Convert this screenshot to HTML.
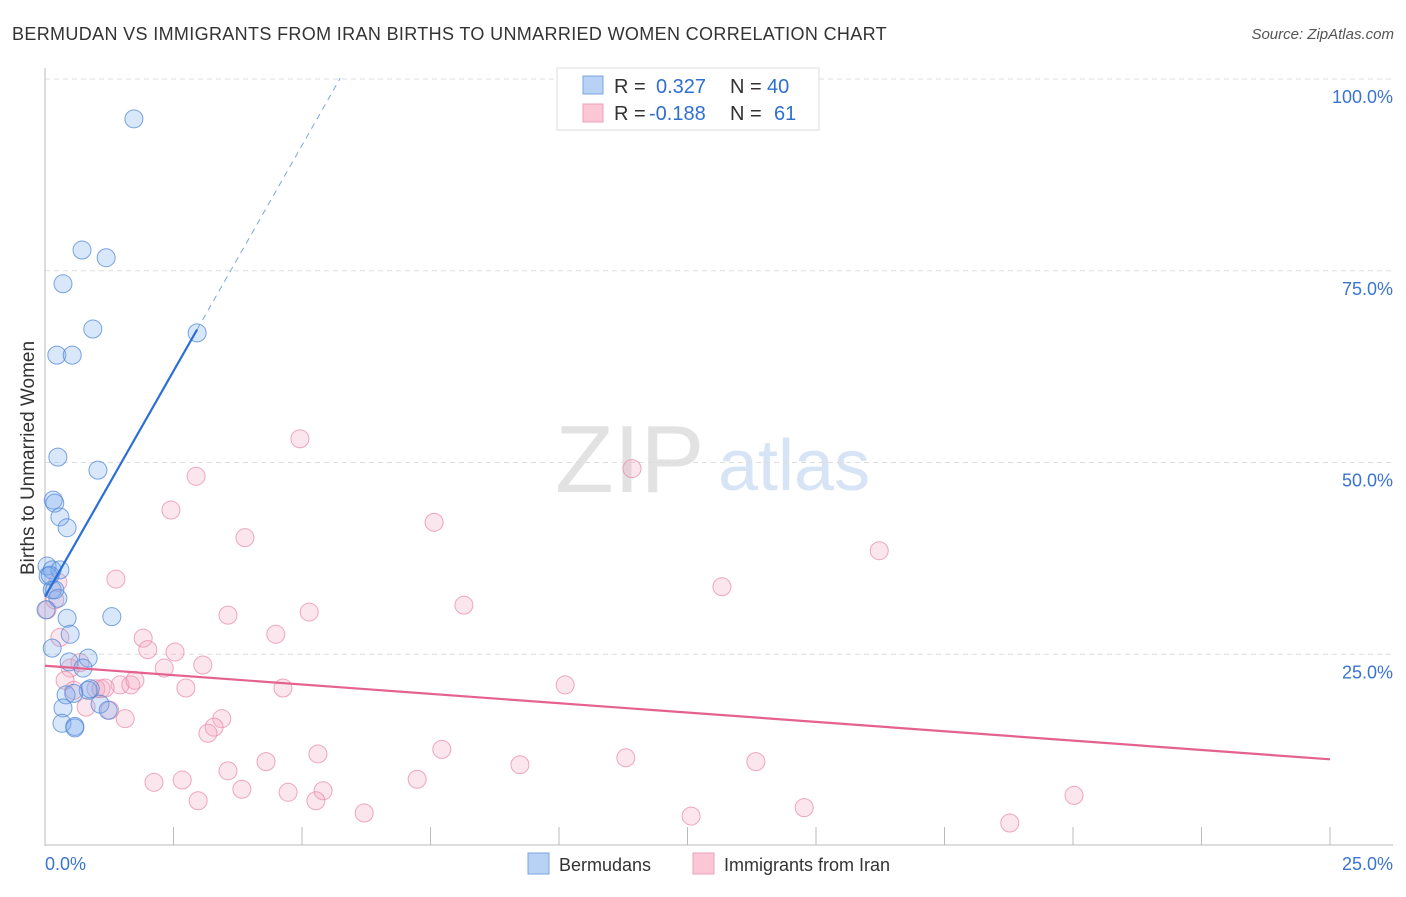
<!DOCTYPE html>
<html><head><meta charset="utf-8"><style>
body{margin:0;background:#fff;font-family:"Liberation Sans",sans-serif}
svg text{font-family:"Liberation Sans",sans-serif}
</style></head><body>
<svg id="chart" width="1406" height="892" xmlns="http://www.w3.org/2000/svg">
<text x="12" y="40" font-size="18" letter-spacing="0.35" fill="#333">BERMUDAN VS IMMIGRANTS FROM IRAN BIRTHS TO UNMARRIED WOMEN CORRELATION CHART</text>
<text x="1394" y="39" font-size="15" fill="#555" text-anchor="end" font-style="italic">Source: ZipAtlas.com</text>
<text x="555" y="492" font-size="96" fill="#e2e2e2" font-family="Liberation Serif">ZIP</text>
<text x="718" y="490" font-size="72" fill="#d6e4f5">atlas</text>
<g id="grid"></g>
<g id="axes"></g>
<g id="pink"></g>
<g id="blue"></g>
<g id="trends"></g>
<text transform="translate(34,458) rotate(-90)" font-size="19" fill="#333" text-anchor="middle">Births to Unmarried Women</text>
<g>
<rect x="557" y="68" width="262" height="62" fill="#fff" stroke="#ddd"/>
<rect x="583" y="76" width="20" height="18" fill="#b8d2f5" stroke="#7aa6e0"/>
<rect x="583" y="104" width="20" height="18" fill="#fcc8d8" stroke="#eca0b8"/>
<text x="614" y="93" font-size="20" fill="#333">R =</text>
<text x="656" y="93" font-size="20" fill="#2f6fd1">0.327</text>
<text x="730" y="93" font-size="20" fill="#333">N =</text>
<text x="767" y="93" font-size="20" fill="#2f6fd1">40</text>
<text x="614" y="120" font-size="20" fill="#333">R =</text>
<text x="649" y="120" font-size="20" fill="#2f6fd1">-0.188</text>
<text x="730" y="120" font-size="20" fill="#333">N =</text>
<text x="774" y="120" font-size="20" fill="#2f6fd1">61</text>
</g>
<g>
<rect x="528" y="853" width="21" height="21" fill="#b8d2f5" stroke="#7aa6e0"/>
<text x="559" y="871" font-size="18" fill="#333">Bermudans</text>
<rect x="693" y="853" width="21" height="21" fill="#fcc8d8" stroke="#eca0b8"/>
<text x="724" y="871" font-size="18" fill="#333">Immigrants from Iran</text>
</g>
</svg>
<script>
const blueX=[1.73,0.72,1.19,0.35,0.93,2.96,0.23,0.53,0.25,1.03,0.16,0.19,0.29,0.43,0.04,0.14,0.29,0.06,0.14,0.25,0.02,1.30,0.43,0.49,0.14,0.84,0.47,0.74,0.88,0.84,0.41,0.56,1.07,0.35,1.23,0.33,0.58,0.58,0.10,0.19];
const blueY=[94.8,77.7,76.7,73.3,67.4,66.9,64.0,64.0,50.7,49.0,45.1,44.7,42.9,41.5,36.5,36.0,36.0,35.2,33.4,32.3,30.8,29.9,29.7,27.6,25.8,24.5,24.0,23.2,20.5,20.3,19.7,19.9,18.5,18.0,17.7,16.0,15.6,15.4,35.3,33.4];
const pinkX=[4.96,2.94,11.42,2.45,7.57,16.23,3.89,1.38,0.25,8.15,13.17,3.56,5.14,0.04,4.49,1.91,0.29,2.00,2.53,0.49,2.32,3.07,0.68,10.12,2.74,4.63,0.99,1.09,1.46,1.67,0.39,1.75,0.80,3.44,3.29,3.17,1.56,1.26,5.31,7.72,11.30,4.30,9.24,13.83,3.56,2.12,2.67,3.83,4.73,5.41,7.24,2.98,5.27,6.21,14.77,20.02,12.57,18.77,0.56,0.19,1.17];
const pinkY=[53.1,48.2,49.2,43.8,42.2,38.5,40.2,34.8,34.4,31.4,33.8,30.1,30.5,30.8,27.6,27.1,27.2,25.6,25.3,23.2,23.2,23.6,23.9,21.0,20.6,20.6,20.5,20.5,21.0,21.0,21.6,21.6,18.1,16.6,15.5,14.7,16.6,17.7,12.0,12.6,11.5,11.0,10.6,11.0,9.8,8.3,8.6,7.4,7.0,7.2,8.7,5.9,5.9,4.3,5.0,6.6,3.9,3.0,20.3,32.1,20.6];
const yTicks=[25,50,75,100];
const yTickLabels=["25.0%","50.0%","75.0%","100.0%"];
const xTickLabels=["0.0%","25.0%"];
const blueTrend=[32.5,11.77];
const pinkTrend=[23.5,-0.488];

const NS="http://www.w3.org/2000/svg";
const X=v=>45+v/25*1285;
const Y=v=>846-v/100*767;
function mk(parent,tag,attrs){const e=document.createElementNS(NS,tag);for(const k in attrs)e.setAttribute(k,attrs[k]);document.getElementById(parent).appendChild(e);return e;}

yTicks.forEach((t,i)=>{
  const l=mk('grid','line',{x1:45,x2:1393,y1:Y(t),y2:Y(t),stroke:'#ddd','stroke-dasharray':'5,4'});
  
  
  const tx=mk('grid','text',{x:1393,y:Y(t)+24,'font-size':18,fill:'#3a74d0','text-anchor':'end'});
  tx.textContent=yTickLabels[i];
  
  
});
const ya=mk('axes','line',{x1:45,x2:45,y1:68,y2:846,stroke:'#bbb'});


const xa=mk('axes','line',{x1:45,x2:1393,y1:845,y2:845,stroke:'#bbb'});


for(let i=1;i<=10;i++){
  const t=mk('axes','line',{x1:X(i*2.5),x2:X(i*2.5),y1:827,y2:845,stroke:'#bbb'});
  
  
}
const xl0=mk('axes','text',{x:45,y:870,'font-size':18,fill:'#3a74d0'});xl0.textContent=xTickLabels[0];


const xl1=mk('axes','text',{x:1393,y:870,'font-size':18,fill:'#3a74d0','text-anchor':'end'});xl1.textContent=xTickLabels[1];



pinkX.forEach((x,i)=>{
  const c=mk('pink','circle',{cx:X(x),cy:Y(pinkY[i]),r:9,fill:'rgba(244,165,192,0.28)',stroke:'rgba(232,140,170,0.75)','stroke-width':1});
  
  
});
blueX.forEach((x,i)=>{
  const c=mk('blue','circle',{cx:X(x),cy:Y(blueY[i]),r:9,fill:'rgba(120,168,238,0.28)',stroke:'rgba(80,135,215,0.75)','stroke-width':1});
  
  
});
const bx1=2.96, bx2=(100-blueTrend[0])/blueTrend[1]+0.01;
const bt=mk('trends','line',{x1:X(0),y1:Y(blueTrend[0]),x2:X(bx1),y2:Y(blueTrend[0]+blueTrend[1]*bx1),stroke:'#2a6fd6','stroke-width':2.2});


const bd=mk('trends','line',{x1:X(bx1),y1:Y(blueTrend[0]+blueTrend[1]*bx1),x2:X(bx2),y2:Y(blueTrend[0]+blueTrend[1]*bx2),stroke:'#7aa6e0','stroke-width':1,'stroke-dasharray':'6,5'});


const pt=mk('trends','line',{x1:X(0),y1:Y(pinkTrend[0]),x2:X(25),y2:Y(pinkTrend[0]+pinkTrend[1]*25),stroke:'#e5628f','stroke-width':2.2});


</script>
</body></html>
